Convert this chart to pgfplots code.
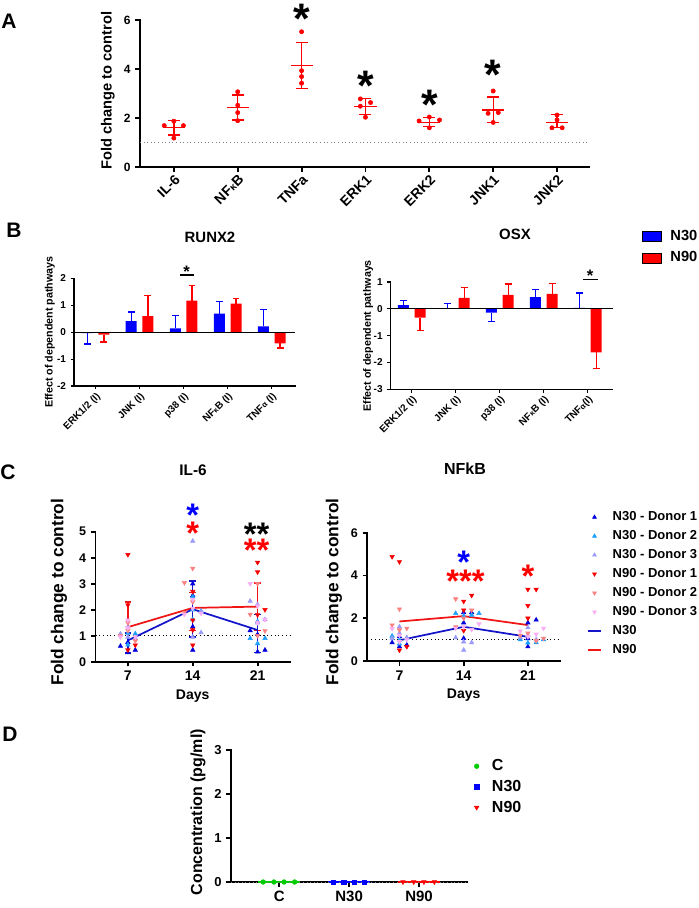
\documentclass[border=0pt]{standalone}
\usepackage{fontspec}
\setmainfont{Liberation Sans}
\usepackage{pgfplots}
\pgfplotsset{compat=1.18}

\definecolor{dA}{RGB}{255,0,0}
\definecolor{bB}{RGB}{0,0,255}
\definecolor{rB}{RGB}{255,0,0}
\definecolor{nA}{RGB}{0,0,220}
\definecolor{nB}{RGB}{30,160,255}
\definecolor{nC}{RGB}{155,155,250}
\definecolor{mA}{RGB}{245,0,0}
\definecolor{mB}{RGB}{250,130,130}
\definecolor{mC}{RGB}{250,175,245}
\definecolor{lineNa}{RGB}{20,20,200}
\definecolor{lineNb}{RGB}{240,20,20}
\definecolor{gD}{RGB}{0,204,0}

\newcommand{\fs}[1]{\fontsize{#1}{#1}\selectfont\bfseries}
\newcommand{\st}[1]{\raisebox{-0.575em}{#1}}

\pgfplotsset{
  gp/.style={scale only axis, axis x line*=bottom, axis y line*=left,
    tick align=outside, clip=false,
    axis line style={line width=#1, black, line cap=rect},
    tick style={line width=#1, black},
    /pgf/number format/assume math mode=true,
    ylabel style={anchor=center}, xlabel style={anchor=center}},
  up/.style={only marks, mark=triangle*, mark size=1.9pt, color=#1, forget plot},
  dn/.style={only marks, mark=triangle*, mark size=1.9pt, mark options={rotate=180}, color=#1, forget plot},
  eb/.style={forget plot, draw=none, mark=none,
    /pgfplots/error bars/y explicit, /pgfplots/error bars/error mark=-,
    /pgfplots/error bars/error bar style={draw=#1, line width=1pt},
    /pgfplots/error bars/error mark options={draw=#1, rotate=90, mark size=2.6pt, line width=1pt}},
  ebp/.style={eb=#1, /pgfplots/error bars/y dir=plus},
  ebm/.style={eb=#1, /pgfplots/error bars/y dir=minus},
}

\begin{document}
\begin{tikzpicture}
\path[use as bounding box] (0,0) rectangle (524.25pt,681pt);

% ---------------- Panel A ----------------
\begin{axis}[gp=1.4pt, at={(105pt,555.75pt)}, anchor=south west,
  width=336.75pt, height=110.25pt,
  xmin=-0.53, xmax=6.5, ymin=0, ymax=6,
  major tick length=3.5pt,
  xtick={0,...,6}, xticklabels={IL-6,NF{\fs{7.5pt}κ}B,TNFa,ERK1,ERK2,JNK1,JNK2},
  xticklabel style={rotate=45, anchor=north east, font=\fs{10.5pt}, inner sep=1pt},
  ytick={0,2,4,6}, yticklabel style={font=\fs{9pt}},
  ylabel={Fold change to control},
  ylabel style={font=\fs{11pt}, at={(axis description cs:-0.0713,0.52)}},
]
\addplot[gray, dotted, line width=0.7pt, forget plot] coordinates {(-0.53,1) (6.5,1)};
\addplot[only marks, mark=*, mark size=1.6pt, color=dA, forget plot] table {
x y
-0.15 1.69
0.15 1.69
0 1.87
0 1.18
1 3.07
1 2.52
1 2.22
1 1.89
2 5.52
2 3.93
2 3.69
2 3.42
2.92 2.78
3.08 2.63
2.92 2.48
3 2.03
3.84 1.88
4.16 1.92
4 2.04
4 1.6
5 3.1
4.92 2.19
5.08 2.22
5 1.82
6 2.12
6 1.92
5.92 1.6
6.08 1.6
};
\addplot[only marks, mark=-, mark size=8.3pt, mark options={line width=1pt}, color=dA, forget plot,
  error bars/.cd, y dir=both, y explicit, error mark=-,
  error bar style={line width=1pt, dA},
  error mark options={rotate=90, mark size=4.5pt, line width=1pt, dA}]
coordinates {
(0,1.6) += (0,0.29) -= (0,0.29)
(1,2.42) += (0,0.52) -= (0,0.50)
(2,4.13) += (0,0.96) -= (0,0.93)
(3,2.46) += (0,0.33) -= (0,0.31)
(4,1.82) += (0,0.21) -= (0,0.18)
(5,2.33) += (0,0.53) -= (0,0.51)
(6,1.81) += (0,0.32) -= (0,0.21)
};
\node[anchor=base, font=\fs{32pt}] at (axis cs:2,6.45) {\st{*}};
\node[anchor=base, font=\fs{32pt}] at (axis cs:3,3.71) {\st{*}};
\node[anchor=base, font=\fs{32pt}] at (axis cs:4,2.94) {\st{*}};
\node[anchor=base, font=\fs{32pt}] at (axis cs:5,4.16) {\st{*}};
\end{axis}

% ---------------- Panel B: RUNX2 ----------------
\begin{axis}[gp=0.8pt, at={(55.5pt,391.5pt)}, anchor=south west,
  width=165.75pt, height=80.8pt,
  xmin=-0.49, xmax=4.53, ymin=-2, ymax=2,
  major tick length=2.5pt,
  ytick={-2,...,2}, yticklabel style={font=\fs{7.5pt}},
  xtick={0,...,4}, xticklabels={ERK1/2 (I),JNK (I),p38 (I),NF{\fs{5.5pt}κ}B (I),TNF{\fs{6pt}α} (I)},
  xticklabel style={rotate=45, anchor=north east, font=\fs{7.5pt}, inner sep=1pt},
  ylabel={Effect of dependent pathways},
  ylabel style={font=\fs{8pt}, at={(axis description cs:-0.109,0.5)}},
]
\addplot[ybar, bar width=0.25, bar shift=0pt, fill=bB, draw=none, forget plot] coordinates {(-0.19,-0.04) (0.81,0.41) (1.81,0.14) (2.81,0.69) (3.81,0.21)};
\addplot[ybar, bar width=0.25, bar shift=0pt, fill=rB, draw=none, forget plot] coordinates {(0.19,-0.09) (1.19,0.59) (2.19,1.17) (3.19,1.06) (4.19,-0.42)};
\addplot[ebp=bB]
  coordinates {(0.81,0.41) +- (0,0.34) (1.81,0.14) +- (0,0.48) (2.81,0.69) +- (0,0.45) (3.81,0.21) +- (0,0.64)};
\addplot[ebm=bB]
  coordinates {(-0.19,-0.04) +- (0,0.40)};
\addplot[ebp=rB]
  coordinates {(1.19,0.59) +- (0,0.76) (2.19,1.17) +- (0,0.55) (3.19,1.06) +- (0,0.20)};
\addplot[ebm=rB]
  coordinates {(0.19,-0.09) +- (0,0.28) (4.19,-0.42) +- (0,0.17)};
\addplot[black, line width=0.8pt, forget plot] coordinates {(-0.49,0) (4.53,0)};
\addplot[black, line width=0.8pt, forget plot] coordinates {(1.92,2.12) (2.23,2.12)};
\node[anchor=base, font=\fs{12.5pt}] at (axis cs:2.07,2.4) {\st{*}};
\end{axis}

% ---------------- Panel B: OSX ----------------
\begin{axis}[gp=0.8pt, at={(293pt,389pt)}, anchor=south west,
  width=166.7pt, height=80.5pt,
  xmin=-0.48, xmax=4.57, ymin=-3, ymax=1,
  major tick length=2.5pt,
  ytick={-3,...,1}, yticklabel style={font=\fs{7.5pt}},
  xtick={0,...,4}, xticklabels={ERK1/2 (I),JNK (I),p38 (I),NF{\fs{5.5pt}κ}B (I),TNF{\fs{6pt}α}(I)},
  xticklabel style={rotate=45, anchor=north east, font=\fs{7.5pt}, inner sep=1pt},
  ylabel={Effect of dependent pathways},
  ylabel style={font=\fs{8pt}, at={(axis description cs:-0.102,0.5)}},
  legend style={at={(axis description cs:1.129,1.508)}, anchor=north west, draw=none, fill=none,
    inner sep=0pt, outer sep=0pt, font=\fs{11pt}, row sep=3pt,
    /tikz/every odd column/.append style={column sep=5pt}},
  legend cell align=left,
  legend image code/.code={\fill[#1] (0pt,-3.75pt) rectangle (14.25pt,3.75pt);},
]
\addplot[ybar, bar width=0.25, bar shift=0pt, fill=bB, draw=none, forget plot] coordinates {(-0.19,0.14) (0.81,0.01) (1.81,-0.14) (2.81,0.44) (3.81,0.04)};
\addplot[ybar, bar width=0.25, bar shift=0pt, fill=rB, draw=none, forget plot] coordinates {(0.19,-0.33) (1.19,0.41) (2.19,0.52) (3.19,0.56) (4.19,-1.62)};
\addplot[ebp=bB]
  coordinates {(-0.19,0.14) +- (0,0.18) (0.81,0.01) +- (0,0.18) (2.81,0.44) +- (0,0.28) (3.81,0.04) +- (0,0.55)};
\addplot[ebm=bB]
  coordinates {(1.81,-0.14) +- (0,0.33)};
\addplot[ebp=rB]
  coordinates {(1.19,0.41) +- (0,0.38) (2.19,0.52) +- (0,0.41) (3.19,0.56) +- (0,0.39)};
\addplot[ebm=rB]
  coordinates {(0.19,-0.33) +- (0,0.47) (4.19,-1.62) +- (0,0.60)};
\addplot[black, line width=0.8pt, forget plot] coordinates {(-0.48,0) (4.57,0)};
\addplot[black, line width=0.8pt, forget plot] coordinates {(3.89,1.09) (4.22,1.09)};
\node[anchor=base, font=\fs{12.5pt}] at (axis cs:4.05,1.36) {\st{*}};
\addlegendimage{fill=bB}\addlegendentry{N30}
\addlegendimage{fill=rB}\addlegendentry{N90}
\end{axis}

% ---------------- Panel C: IL-6 ----------------
\begin{axis}[gp=1.4pt, at={(71.6pt,184.7pt)}, anchor=south west,
  width=145.9pt, height=97.5pt,
  xmin=3.5, xmax=24.5, ymin=0, ymax=5,
  major tick length=3.5pt,
  xtick={7,14,21}, xticklabel style={font=\fs{10.5pt}},
  ytick={0,...,5}, yticklabel style={font=\fs{9.4pt}},
  ylabel={Fold change to control},
  ylabel style={font=\fs{13pt}, at={(axis description cs:-0.188,0.536)}},
  xlabel={Days}, xlabel style={font=\fs{10.5pt}, at={(axis description cs:0.5,-0.264)}},
]
\addplot[black, dotted, line width=0.8pt, forget plot] coordinates {(3.5,1) (24.5,1)};
\addplot[up=nA] table {
x y
6.2 0.6
7 0.35
7 0.75
7.8 0.45
14 3.0
14 1.35
14 0.45
14 2.55
20.2 1.2
21 1.05
21 0.38
21.8 0.45
};
\addplot[up=nB] table {
x y
6.2 1.03
7 0.65
7.8 1.08
7 1.1
14 2.5
14.9 1.95
14 1.62
14 2.0
20.2 0.9
21.8 0.9
21 0.7
21 1.55
};
\addplot[up=nC] table {
x y
6.2 1.07
7 1.35
7.8 0.9
7 0.95
14 4.64
14.9 1.92
14.9 1.12
14 0.95
20.2 2.33
21 2.2
21.8 1.62
21 1.5
};
\addplot[dn=mA] table {
x y
7 4.12
7 2.18
7.8 0.64
7 0.45
14 2.7
14 1.6
14 1.22
14 0.64
21 3.82
21 3.45
21.8 2.0
21 1.8
};
\addplot[dn=mB] table {
x y
7 1.5
6.2 1.0
7.8 0.8
7 1.2
13.1 3.04
14 3.59
14 2.3
13.1 1.9
20.2 1.82
21.8 1.19
21 3.0
21 1.0
};
\addplot[dn=mC] table {
x y
7 1.6
6.2 0.95
7.8 0.95
7 1.3
13.1 1.82
14.9 1.86
14 2.05
14 2.4
20.2 3.0
21 2.15
21.8 1.62
21 1.5
};
\addplot[lineNb, line width=1.3pt, mark=none, forget plot,
  error bars/.cd, y dir=both, y explicit, error mark=-,
  error bar style={line width=1pt, lineNb}, error mark options={rotate=90, mark size=2.5pt, line width=1pt, lineNb}]
  coordinates {(7,1.33) += (0,0.97) -= (0,0.98) (14,2.07) += (0,0.58) -= (0,0.87) (21,2.12) += (0,0.91) -= (0,0.92)};
\addplot[lineNa, line width=1.3pt, mark=none, forget plot,
  error bars/.cd, y dir=both, y explicit, error mark=-,
  error bar style={line width=1pt, lineNa}, error mark options={rotate=90, mark size=2.5pt, line width=1pt, lineNa}]
  coordinates {(7,0.82) += (0,0.28) -= (0,0.49) (14,2.02) += (0,1.08) -= (0,1.07) (21,1.22) += (0,0.6) -= (0,0.87)};
\node[anchor=base, font=\fs{24.5pt}, text=bB] at (axis cs:14,5.94) {\st{*}};
\node[anchor=base, font=\fs{24.5pt}, text=rB] at (axis cs:14,5.23) {\st{*}};
\node[anchor=base, font=\fs{24.5pt}, text=black] at (axis cs:20.9,5.19) {\st{**}};
\node[anchor=base, font=\fs{24.5pt}, text=rB] at (axis cs:20.9,4.58) {\st{**}};
\end{axis}

% ---------------- Panel C: NFkB ----------------
\begin{axis}[gp=1.4pt, at={(275.5pt,185.25pt)}, anchor=south west,
  width=144.5pt, height=96.2pt,
  xmin=3.5, xmax=24.5, ymin=0, ymax=6,
  major tick length=3.5pt,
  xtick={7,14,21}, xticklabel style={font=\fs{10.5pt}},
  ytick={0,2,4,6}, yticklabel style={font=\fs{9.4pt}},
  ylabel={Fold change to control},
  ylabel style={font=\fs{13pt}, at={(axis description cs:-0.173,0.538)}},
  xlabel={Days}, xlabel style={font=\fs{10.5pt}, at={(axis description cs:0.5,-0.27)}},
  legend style={at={(axis description cs:1.14,1.185)}, anchor=north west, draw=none, fill=none,
    inner sep=0pt, outer sep=0pt, font=\fs{9.75pt}, row sep=1.9pt,
    /tikz/every odd column/.append style={column sep=6pt}},
  legend cell align=left,
  legend image code/.code={\draw[mark repeat=2,mark phase=2,#1] plot coordinates {(0pt,0pt) (5pt,0pt) (10pt,0pt)};},
]
\addplot[black, dotted, line width=0.8pt, forget plot] coordinates {(3.5,1) (24.5,1)};
\addplot[up=nA] table {
x y
6.2 0.86
7 1.14
7 0.67
7.8 0.75
14 2.27
14.87 2.27
14 1.79
14 1.06
21 1.79
21.9 1.92
21 0.67
21 1.05
};
\addplot[up=nB] table {
x y
6.2 1.17
7 0.98
7.8 1.06
7 0.8
13.13 2.23
15.67 2.23
14 2.1
14.87 2.15
20.17 1.0
21.9 0.86
22.7 1.0
21 0.85
};
\addplot[up=nC] table {
x y
7 1.6
7.8 1.1
6.2 1.05
7 1.3
13.13 1.09
14 0.9
14.87 0.86
14 0.51
21 1.56
20.17 1.1
21.9 1.0
21 1.2
};
\addplot[dn=mA] table {
x y
6.2 4.88
7 4.64
7 0.51
7.8 0.67
14 2.79
14.87 3.07
14 2.38
14 1.42
21 3.35
21.9 3.35
21 2.59
21 2.0
};
\addplot[dn=mB] table {
x y
7 2.43
6.2 1.68
7.8 1.53
7 1.45
13.13 2.9
14.87 2.38
14 2.0
13.13 1.6
21 1.3
21.9 0.95
22.7 1.06
20.17 1.2
};
\addplot[dn=mC] table {
x y
6.2 1.51
7 1.2
7.8 1.0
7 0.9
15.67 1.73
13.13 1.53
14.87 1.48
14 1.6
20.17 1.4
21.9 1.25
22.7 1.53
21 1.14
};
\addplot[lineNb, line width=1.3pt, mark=none, forget plot] coordinates {(7,1.85) (14,2.1) (21,1.68)};
\addplot[lineNa, line width=1.3pt, mark=none, forget plot] coordinates {(7,0.97) (14,1.6) (21,1.13)};
\node[anchor=base, font=\fs{24.5pt}, text=bB] at (axis cs:14,4.95) {\st{*}};
\node[anchor=base, font=\fs{24.5pt}, text=rB] at (axis cs:14.2,4.07) {\st{***}};
\node[anchor=base, font=\fs{24.5pt}, text=rB] at (axis cs:21,4.33) {\st{*}};
\addlegendimage{only marks, mark=triangle*, mark size=1.7pt, color=nA}\addlegendentry{N30 - Donor 1}
\addlegendimage{only marks, mark=triangle*, mark size=1.7pt, color=nB}\addlegendentry{N30 - Donor 2}
\addlegendimage{only marks, mark=triangle*, mark size=1.7pt, color=nC}\addlegendentry{N30 - Donor 3}
\addlegendimage{only marks, mark=triangle*, mark size=1.7pt, mark options={rotate=180}, color=mA}\addlegendentry{N90 - Donor 1}
\addlegendimage{only marks, mark=triangle*, mark size=1.7pt, mark options={rotate=180}, color=mB}\addlegendentry{N90 - Donor 2}
\addlegendimage{only marks, mark=triangle*, mark size=1.7pt, mark options={rotate=180}, color=mC}\addlegendentry{N90 - Donor 3}
\addlegendimage{color=lineNa, draw=lineNa, line width=1.3pt}\addlegendentry{N30}
\addlegendimage{color=lineNb, draw=lineNb, line width=1.3pt}\addlegendentry{N90}
\end{axis}

% ---------------- Panel D ----------------
\begin{axis}[gp=1.4pt, at={(173.25pt,19.5pt)}, anchor=south west,
  width=177.2pt, height=98.8pt,
  xmin=-0.69, xmax=2.69, ymin=0, ymax=3,
  major tick length=3.5pt,
  xtick={0,1,2}, xticklabels={C,N30,N90}, xticklabel style={font=\fs{11.25pt}},
  ytick={0,...,3}, yticklabel style={font=\fs{9.75pt}},
  ylabel={Concentration (pg/ml)},
  ylabel style={font=\fs{12pt}, at={(axis description cs:-0.14,0.53)}},
  legend style={at={(axis description cs:1.03,0.949)}, anchor=north west, draw=none, fill=none,
    inner sep=0pt, outer sep=0pt, font=\fs{12pt}, row sep=1.6pt,
    /tikz/every odd column/.append style={column sep=7.7pt}},
  legend cell align=left,
  legend image code/.code={\draw[mark repeat=2,mark phase=2,#1] plot coordinates {(0pt,0pt) (5pt,0pt) (10pt,0pt)};},
]
\addplot[gD, line width=1.2pt, forget plot] coordinates {(-0.3,0) (0.3,0)};
\addplot[bB, line width=1.2pt, forget plot] coordinates {(0.7,0) (1.3,0)};
\addplot[rB, line width=1.2pt, forget plot] coordinates {(1.7,0) (2.3,0)};
\addplot[gray, dotted, line width=0.7pt, forget plot] coordinates {(-0.69,0) (2.69,0)};
\addplot[only marks, mark=*, mark size=1.75pt, gD, forget plot] coordinates {(-0.23,0) (-0.076,0) (0.07,0) (0.22,0)};
\addplot[only marks, mark=square*, mark size=1.6pt, bB, forget plot] coordinates {(0.77,0) (0.924,0) (1.07,0) (1.22,0)};
\addplot[only marks, mark=triangle*, mark size=1.9pt, mark options={rotate=180}, rB, forget plot] coordinates {(1.77,0) (1.924,0) (2.07,0) (2.22,0)};
\addlegendimage{only marks, mark=*, mark size=1.75pt, color=gD}\addlegendentry{C}
\addlegendimage{only marks, mark=square*, mark size=1.6pt, color=bB}\addlegendentry{N30}
\addlegendimage{only marks, mark=triangle*, mark size=1.9pt, mark options={rotate=180}, color=rB}\addlegendentry{N90}
\end{axis}

% ---------------- free text (pixel coordinates) ----------------
\begin{scope}[shift={(0pt,681pt)}, x=0.75pt, y=-0.75pt]
\node[font=\fs{15.75pt}] at (9,21) {A};
\node[font=\fs{15.75pt}] at (14,230) {B};
\node[font=\fs{15.75pt}] at (8,472) {C};
\node[font=\fs{15.75pt}] at (10,734) {D};
\node[font=\fs{11.2pt}] at (210,237.7) {RUNX2};
\node[font=\fs{11.2pt}] at (515,234.3) {OSX};
\node[font=\fs{11.5pt}] at (193,470.7) {IL-6};
\node[font=\fs{12pt}] at (465,468.3) {NFkB};
\end{scope}
\end{tikzpicture}
\end{document}
